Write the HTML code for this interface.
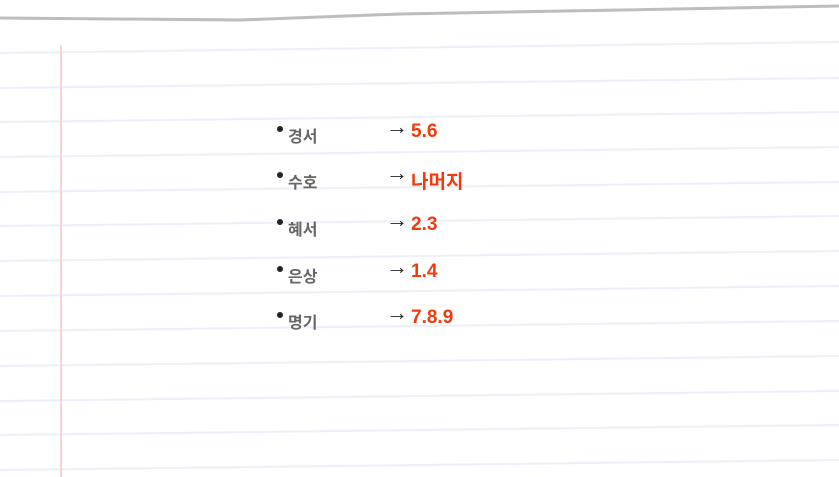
<!DOCTYPE html>
<html><head><meta charset="utf-8"><style>
body{margin:0;width:839px;height:477px;overflow:hidden;background:#fff;font-family:"Liberation Sans","Noto Sans CJK KR",sans-serif;}
.dot{position:absolute;left:277px;width:6px;height:6px;border-radius:50%;background:#222;}
.name{position:absolute;left:288px;color:#666;font-weight:bold;font-size:16px;}
.arr{position:absolute;left:386px;color:#222;font-size:22px;font-weight:bold;line-height:22px;}
.val{position:absolute;left:411px;color:#f23a0c;font-weight:bold;font-size:19px;}
</style></head><body>
<svg width="839" height="477" style="position:absolute;left:0;top:0">
<path d="M0,18 L240,20 L400,14 L839,6" stroke="#bdbdbd" stroke-width="3" fill="none"/>
<g stroke="#eceff9" stroke-width="2">
<line x1="0" y1="53" x2="839" y2="42"/>
<line x1="0" y1="88" x2="839" y2="78"/>
<line x1="0" y1="122" x2="839" y2="112"/>
<line x1="0" y1="157" x2="839" y2="147"/>
<line x1="0" y1="192" x2="839" y2="182"/>
<line x1="0" y1="226" x2="839" y2="216"/>
<line x1="0" y1="261" x2="839" y2="251"/>
<line x1="0" y1="296" x2="839" y2="286"/>
<line x1="0" y1="331" x2="839" y2="321"/>
<line x1="0" y1="366" x2="839" y2="356"/>
<line x1="0" y1="401" x2="839" y2="391"/>
<line x1="0" y1="435" x2="839" y2="425"/>
<line x1="0" y1="470" x2="839" y2="460"/>
</g>
<line x1="61" y1="45" x2="61" y2="477" stroke="#f8c4c4" stroke-width="1.5"/>
</svg>
<div><div class="dot" style="top:126px"></div><div class="name" style="top:123px">경서</div><div class="arr" style="top:116px">→</div><div class="val" style="top:121px">5.6</div></div>
<div><div class="dot" style="top:172px"></div><div class="name" style="top:169px">수호</div><div class="arr" style="top:162px">→</div><div class="val" style="top:167px">나머지</div></div>
<div><div class="dot" style="top:219px"></div><div class="name" style="top:216px">혜서</div><div class="arr" style="top:209px">→</div><div class="val" style="top:214px">2.3</div></div>
<div><div class="dot" style="top:266px"></div><div class="name" style="top:263px">은상</div><div class="arr" style="top:256px">→</div><div class="val" style="top:261px">1.4</div></div>
<div><div class="dot" style="top:312px"></div><div class="name" style="top:309px">명기</div><div class="arr" style="top:302px">→</div><div class="val" style="top:307px">7.8.9</div></div>
</body></html>
